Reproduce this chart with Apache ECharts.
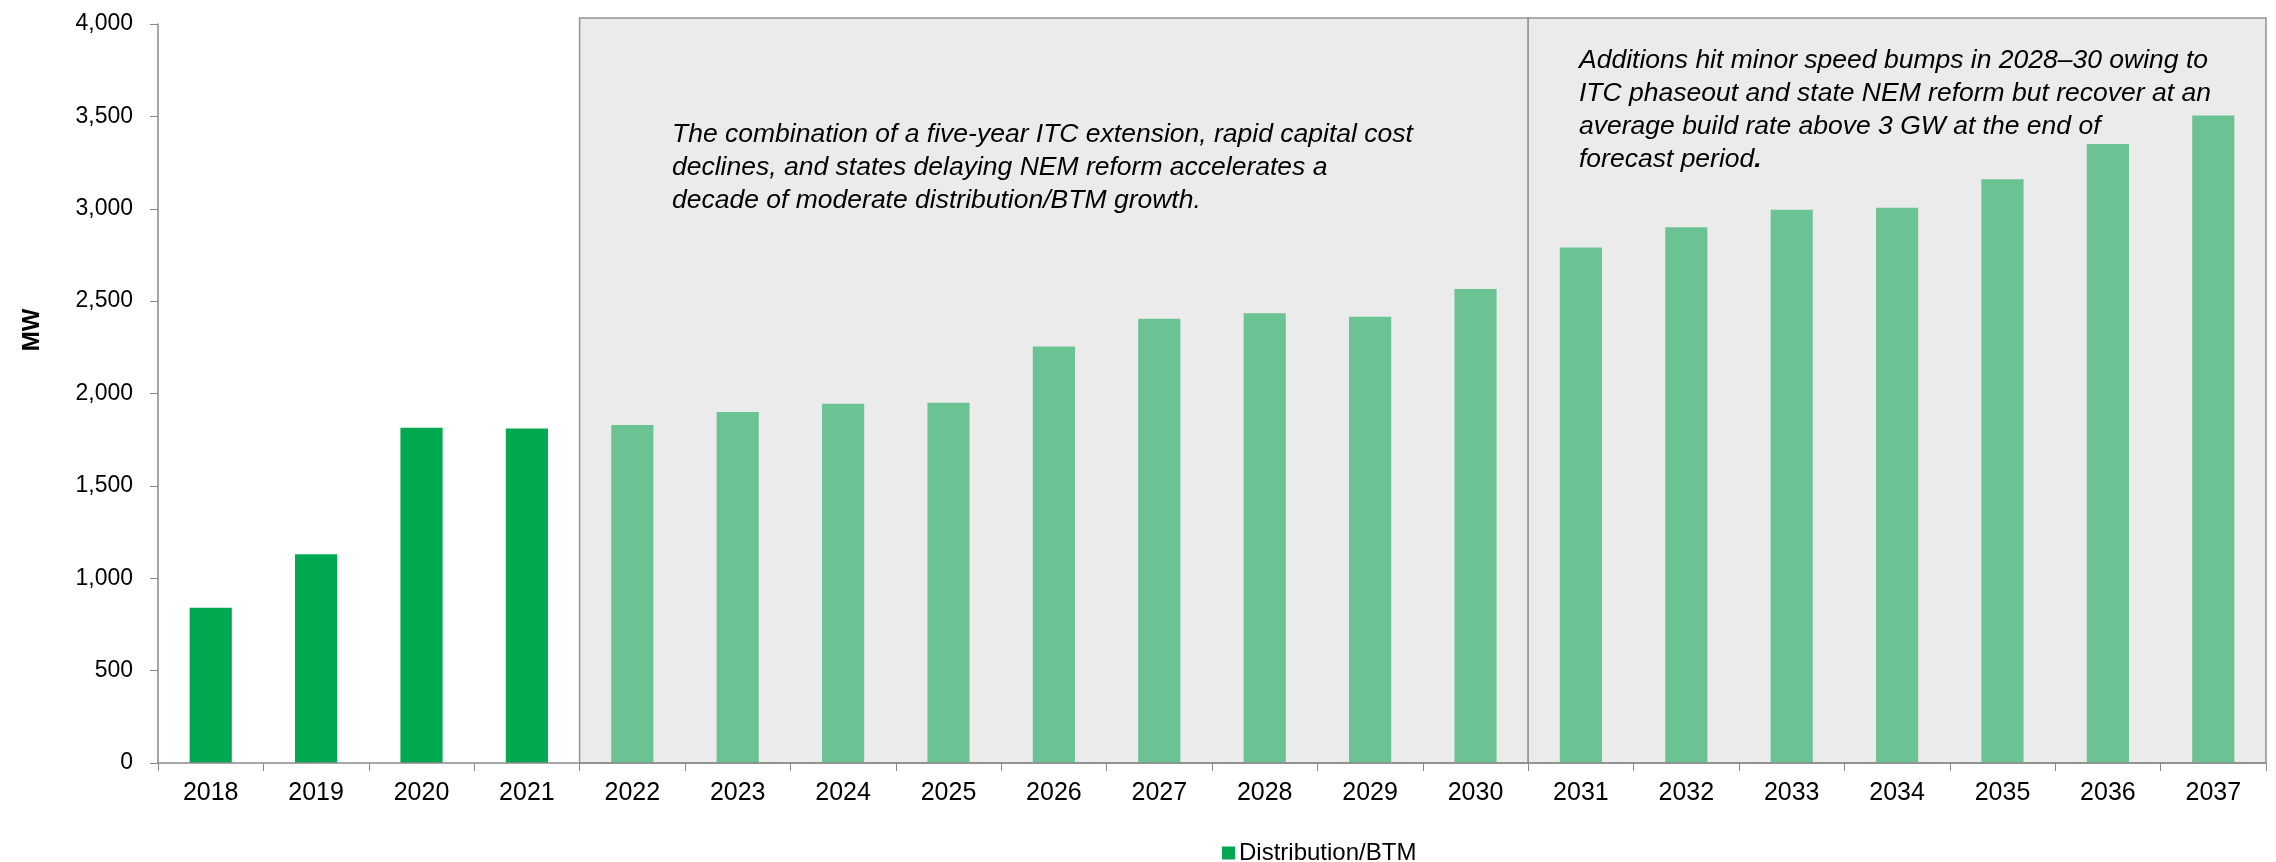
<!DOCTYPE html>
<html>
<head>
<meta charset="utf-8">
<script src="https://cdn.jsdelivr.net/npm/echarts@6/dist/echarts.min.js"></script>
<style>
  html, body { margin: 0; padding: 0; background: #fff; }
  #chart { width: 2276px; height: 862px; }
</style>
</head>
<body>
<div id="chart"></div>
<script>
// Annual distribution / behind-the-meter solar additions (MW)
const years = ['2018','2019','2020','2021','2022','2023','2024','2025','2026','2027',
               '2028','2029','2030','2031','2032','2033','2034','2035','2036','2037'];
const additionsMW = [840, 1130, 1815, 1810, 1830, 1900, 1945, 1950, 2255, 2405,
                     2435, 2415, 2565, 2790, 2900, 2995, 3005, 3160, 3350, 3505];
const firstForecastYear = '2022';
const phaseoutStartYear = '2031';
const seriesName = 'Distribution/BTM';
const yTicks = { min: 0, max: 4000, interval: 500 };

const noteForecast = 'The combination of a five-year ITC extension, rapid capital cost\n' +
  'declines, and states delaying NEM reform accelerates a\n' +
  'decade of moderate distribution/BTM growth.';
const notePhaseout = 'Additions hit minor speed bumps in 2028\u201330 owing to\n' +
  'ITC phaseout and state NEM reform but recover at an\n' +
  'average build rate above 3 GW at the end of\n' +
  'forecast period{b|.}';

const HIST_COLOR = '#00a84f';
const FCST_COLOR = '#6bc393';
const FONT = 'Liberation Sans, Arial, sans-serif';
const NOTE_SIZE = 26.5;
const NOTE_LINE = 33;

const chart = echarts.init(document.getElementById('chart'), null, { renderer: 'canvas' });

const forecastIdx = years.indexOf(firstForecastYear);
const barData = additionsMW.map((v, i) => ({
  value: v,
  itemStyle: { color: i >= forecastIdx ? FCST_COLOR : HIST_COLOR }
}));

const grid = { left: 158, right: 10, top: 24, bottom: 99 };

chart.setOption({
  animation: false,
  backgroundColor: '#ffffff',
  textStyle: { fontFamily: FONT },
  grid: grid,
  legend: {
    data: [seriesName],
    left: 1217, top: 836,
    itemWidth: 13, itemHeight: 13, itemGap: 10,
    icon: 'rect',
    textStyle: { fontSize: 24, color: '#000', fontFamily: FONT, padding: [0, 0, 0, -1] }
  },
  xAxis: [{
    type: 'category',
    data: years,
    boundaryGap: true,
    axisLine: { lineStyle: { color: '#8a8a8a', width: 1.5 } },
    axisTick: { show: true, length: 8, alignWithLabel: false, lineStyle: { color: '#8a8a8a' } },
    axisLabel: { fontSize: 25, color: '#000', margin: 18, fontFamily: FONT },
    z: 5
  }, {
    // boundary scale for the shaded forecast panels: 0..N spans the category bands
    type: 'value', min: 0, max: years.length, show: false
  }],
  yAxis: {
    type: 'value',
    min: yTicks.min, max: yTicks.max, interval: yTicks.interval,
    axisLine: { show: true, lineStyle: { color: '#8a8a8a', width: 1.5 } },
    axisTick: { show: true, length: 8, lineStyle: { color: '#8a8a8a' } },
    splitLine: { show: false },
    axisLabel: {
      fontSize: 23, color: '#000', margin: 25, fontFamily: FONT,
      formatter: v => v.toLocaleString('en-US')
    },
    z: 5
  },
  series: [{
    name: seriesName,
    type: 'bar',
    data: barData,
    barWidth: '40%',
    itemStyle: { color: HIST_COLOR },
    z: 3
  }]
});

// Shaded forecast panels and annotations, positioned via the chart's own scales
function panelRect(fromIdx, toIdx) {
  const x0 = chart.convertToPixel({ xAxisIndex: 1 }, fromIdx);
  const x1 = chart.convertToPixel({ xAxisIndex: 1 }, toIdx);
  const yTop = chart.convertToPixel({ yAxisIndex: 0 }, yTicks.max) - 6;
  const yBot = chart.convertToPixel({ yAxisIndex: 0 }, 0);
  return { x: x0, y: yTop, width: x1 - x0, height: yBot - yTop };
}

const splitIdx = years.indexOf(phaseoutStartYear);
const r1 = panelRect(forecastIdx, splitIdx);
const r2 = panelRect(splitIdx, years.length);

chart.setOption({
  graphic: [
    {
      type: 'rect', z: 0, silent: true,
      shape: r1,
      style: { fill: '#ebebeb', stroke: '#939393', lineWidth: 1.5 }
    },
    {
      type: 'rect', z: 0, silent: true,
      shape: r2,
      style: { fill: '#ebebeb', stroke: '#939393', lineWidth: 1.5 }
    },
    {
      type: 'text', z: 10, silent: true,
      x: 672, y: 118,
      style: {
        text: noteForecast,
        font: 'italic ' + NOTE_SIZE + 'px ' + FONT,
        fill: '#000',
        lineHeight: NOTE_LINE
      }
    },
    {
      type: 'text', z: 10, silent: true,
      x: 1579, y: 44,
      style: {
        text: notePhaseout,
        font: 'italic ' + NOTE_SIZE + 'px ' + FONT,
        fill: '#000',
        lineHeight: NOTE_LINE,
        rich: { b: { fontWeight: 'bold', fontStyle: 'italic', fontSize: NOTE_SIZE, fontFamily: FONT, lineHeight: NOTE_LINE } }
      }
    },
    {
      type: 'text', z: 10, silent: true,
      x: 32, y: 330, rotation: Math.PI / 2,
      style: {
        text: 'MW',
        font: 'bold 24px ' + FONT,
        fill: '#000',
        align: 'center',
        verticalAlign: 'middle'
      }
    }
  ]
});
</script>
</body>
</html>
